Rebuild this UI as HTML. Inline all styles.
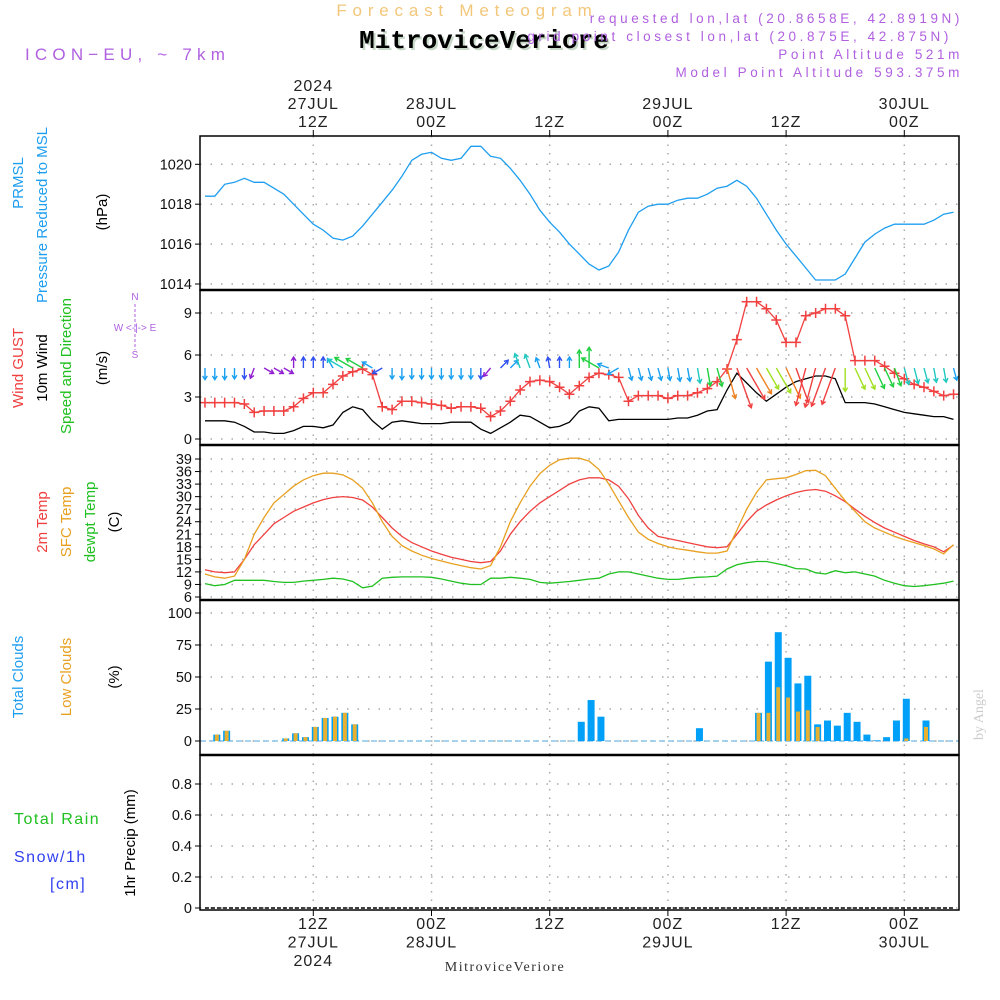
<!DOCTYPE html>
<html><head><meta charset="utf-8">
<style>
html,body{margin:0;padding:0;background:#fff;}
svg{display:block;font-family:"Liberation Sans",sans-serif;}
</style></head>
<body>
<svg id="chart" width="1000" height="1000" viewBox="0 0 1000 1000" xmlns="http://www.w3.org/2000/svg">
<rect width="1000" height="1000" fill="#fff"/>
<text x="467" y="16" font-size="17" fill="#f3c77a" text-anchor="middle" letter-spacing="5.8">Forecast Meteogram</text>
<text x="486" y="50" font-size="26" font-weight="bold" font-family="Liberation Mono,monospace" fill="#c8d8c8" text-anchor="middle">MitroviceVeriore</text>
<text x="484" y="48" font-size="26" font-weight="bold" font-family="Liberation Mono,monospace" fill="#000" text-anchor="middle">MitroviceVeriore</text>
<text x="25" y="60" font-size="17" fill="#b060e0" letter-spacing="5.2">ICON−EU, ~ 7km</text>
<g font-size="13.5" fill="#b060e0" text-anchor="end" letter-spacing="3.6">
<text x="963" y="23">requested lon,lat (20.8658E, 42.8919N)</text>
<text x="952" y="41">grid point closest lon,lat (20.875E, 42.875N)</text>
<text x="963" y="59">Point Altitude 521m</text>
<text x="963" y="77">Model Point Altitude 593.375m</text>
</g>
<g id="grid"></g>
<g id="marks"></g>
<g id="frames"></g>
<g id="labels"></g>
<text x="505" y="971" font-size="14" font-family="Liberation Serif,serif" fill="#333" text-anchor="middle" letter-spacing="1.5">MitroviceVeriore</text>
<text transform="translate(983,740) rotate(-90)" font-size="14" font-family="Liberation Serif,serif" fill="#ccc">by Angel</text>
</svg>
<script>
// ---- data (hourly, h = 1..77 hours after 00Z 27JUL) ----
const hours = [1,2,3,4,5,6,7,8,9,10,11,12,13,14,15,16,17,18,19,20,21,22,23,24,25,26,27,28,29,30,31,32,33,34,35,36,37,38,39,40,41,42,43,44,45,46,47,48,49,50,51,52,53,54,55,56,57,58,59,60,61,62,63,64,65,66,67,68,69,70,71,72,73,74,75,76,77];
const pressure = [1018.4,1018.4,1019.0,1019.1,1019.3,1019.1,1019.1,1018.8,1018.5,1018.0,1017.5,1017.0,1016.7,1016.3,1016.2,1016.4,1016.9,1017.5,1018.1,1018.7,1019.4,1020.2,1020.5,1020.6,1020.3,1020.2,1020.3,1020.9,1020.9,1020.4,1020.3,1019.8,1019.2,1018.5,1017.7,1017.1,1016.6,1016.0,1015.5,1015.0,1014.7,1014.9,1015.6,1016.7,1017.6,1017.9,1018.0,1018.0,1018.2,1018.3,1018.3,1018.5,1018.8,1018.9,1019.2,1018.9,1018.3,1017.5,1016.7,1016.0,1015.4,1014.8,1014.2,1014.2,1014.2,1014.5,1015.3,1016.1,1016.5,1016.8,1017.0,1017.0,1017.0,1017.0,1017.2,1017.5,1017.6];
const gust = [2.6,2.6,2.6,2.6,2.5,1.9,2.0,2.0,2.0,2.3,2.9,3.3,3.3,3.9,4.5,4.8,5.0,4.6,2.3,2.1,2.7,2.7,2.6,2.5,2.4,2.2,2.3,2.3,2.2,1.6,2.0,2.7,3.5,4.1,4.2,4.1,3.7,3.2,3.8,4.4,4.7,4.6,4.4,2.7,3.1,3.1,3.1,2.9,3.1,3.1,3.3,3.6,4.1,5.0,7.1,9.8,9.8,9.3,8.5,6.9,6.9,8.8,9.0,9.3,9.3,8.8,5.6,5.6,5.6,5.2,4.7,4.3,3.9,3.7,3.4,3.1,3.2];
const wind10 = [1.3,1.3,1.3,1.2,0.9,0.5,0.5,0.4,0.4,0.6,0.9,0.9,0.8,1.0,1.9,2.3,2.1,1.3,0.7,1.2,1.3,1.2,1.1,1.1,1.1,1.2,1.2,1.2,0.7,0.4,0.8,1.2,1.7,1.6,1.2,0.8,0.9,1.2,2.0,2.3,2.2,1.3,1.4,1.4,1.4,1.4,1.4,1.4,1.5,1.5,1.7,2.0,2.1,3.5,4.7,4.0,3.3,2.7,3.2,3.7,4.1,4.3,4.5,4.5,4.3,2.6,2.6,2.6,2.5,2.3,2.1,1.9,1.8,1.7,1.6,1.6,1.4];
// arrow heading (degrees, 0 = toward north/up, 90 = east, 180 = south/down)
const windDir = [180,180,180,180,180,200,120,120,120,0,0,0,0,330,300,300,300,300,240,180,180,180,180,180,180,180,180,180,180,220,45,45,340,340,340,350,0,0,0,0,300,290,240,165,165,165,165,170,170,170,170,170,165,165,160,150,150,150,150,155,160,195,195,200,200,180,155,155,155,155,160,165,165,165,170,170,165];
const temp2m = [12.5,12.0,11.8,12.0,15.0,18.5,21.0,23.5,25.0,26.5,27.5,28.5,29.3,29.8,30.0,29.8,29.2,27.5,25.0,22.5,20.5,19.0,18.0,17.0,16.2,15.5,15.0,14.5,14.2,14.5,17.0,21.0,24.0,26.5,28.5,30.0,31.5,33.0,34.0,34.5,34.5,34.0,32.5,29.5,25.5,22.5,20.5,20.0,19.5,19.0,18.5,18.0,17.8,18.0,21.0,24.0,26.5,28.0,29.2,30.2,31.0,31.5,31.7,31.3,30.2,28.8,27.0,25.3,23.8,22.5,21.5,20.5,19.5,18.7,18.0,16.8,18.4];
const tempSfc = [11.5,10.8,10.5,11.0,15.0,21.0,25.0,28.5,30.5,32.5,34.0,35.0,35.6,35.6,35.2,34.0,32.0,28.5,24.0,20.5,18.3,17.0,16.0,15.2,14.6,14.0,13.5,13.0,12.7,13.5,18.0,24.0,28.5,32.5,35.5,37.5,38.8,39.2,39.2,38.5,36.5,33.0,29.0,25.0,21.5,19.8,18.8,18.0,17.5,17.2,16.8,16.5,16.5,17.0,22.0,27.0,31.0,34.0,34.3,34.5,35.3,36.2,36.3,35.0,32.0,29.0,26.5,24.0,22.5,21.5,20.5,19.7,19.0,18.3,17.5,16.3,18.5];
const dewpt = [9.2,8.7,9.0,10.0,10.0,10.0,10.0,9.7,9.5,9.5,9.8,10.0,10.2,10.5,10.3,9.7,8.2,8.6,10.5,10.7,10.8,10.8,10.8,10.7,10.3,9.8,9.3,9.0,9.0,10.5,10.5,10.7,10.5,10.2,9.5,9.3,9.5,9.7,10.0,10.3,10.5,11.5,12.0,12.0,11.5,11.0,10.5,10.2,10.2,10.5,10.7,10.8,11.0,12.7,13.7,14.2,14.5,14.5,14.0,13.5,12.8,12.7,11.8,11.5,12.3,11.8,12.0,11.5,11.0,10.0,9.3,8.7,8.5,8.7,9.0,9.3,9.8];
const totalClouds = [0,5,8,0,0,0,0,0,2,6,3,11,18,19,22,13,0,0,0,0,0,0,0,0,0,0,0,0,0,0,0,0,0,0,0,0,0,0,15,32,19,0,0,0,0,0,0,0,0,0,10,0,0,0,0,0,22,62,85,65,45,51,13,16,12,22,15,5,0.5,3,16,33,0,16,0,0,0];
const lowClouds = [0,5,8,0,0,0,0,0,2,6,3,11,18,19,22,13,0,0,0,0,0,0,0,0,0,0,0,0,0,0,0,0,0,0,0,0,0,0,0,0,0,0,0,0,0,0,0,0,0,0,0,0,0,0,0,0,22,22,42,34,23,24,11,0,0,0,0,0,0,0,0,2,0,11,0,0,0];
const precip = hours.map(()=>0);
const timeTicks = [{h:12,top:["2024","27JUL","12Z"],bot:["12Z","27JUL","2024"]},{h:24,top:["28JUL","00Z"],bot:["00Z","28JUL"]},{h:36,top:["12Z"],bot:["12Z"]},{h:48,top:["29JUL","00Z"],bot:["00Z","29JUL"]},{h:60,top:["12Z"],bot:["12Z"]},{h:72,top:["30JUL","00Z"],bot:["00Z","30JUL"]}];
const pTicks = [1014,1016,1018,1020];
const wTicks = [0,3,6,9];
const tTicks = [6,9,12,15,18,21,24,27,30,33,36,39];
const cTicks = [0,25,50,75,100];
const rTicks = [0,0.2,0.4,0.6,0.8];

// ---- geometry ----
const NS="http://www.w3.org/2000/svg";
const L=200,R=959;
const X = h => 313.3 + (h-12)*9.85;
const lin=(v0,y0,v1,y1)=>v=>y0+(v-v0)*(y1-y0)/(v1-v0);
const yP=lin(1014,284,1020,164.3), yW=lin(0,439,9,313), yT=lin(6,597,39,459), yC=lin(0,741,100,613), yR=lin(0,908,0.8,784);
const panels=[[136,290],[290,445],[445,600],[600,755],[755,910]];
function el(tag,attrs,parent,txt){const e=document.createElementNS(NS,tag);for(const k in attrs)e.setAttribute(k,attrs[k]);if(txt!==undefined)e.textContent=txt;document.getElementById(parent).appendChild(e);return e;}

// grid
timeTicks.forEach(t=>{panels.forEach(p=>{
  const g=el('line',{x1:X(t.h),x2:X(t.h),y1:p[0],y2:p[1],stroke:'#aaa','stroke-width':1.5,'stroke-dasharray':'1.5,7'},'grid');
  
  
});});
function hgrid(ticks,fy,fmt,name){ticks.forEach(v=>{
  const y=fy(v);
  const g=el('line',{x1:L,x2:R,y1:y,y2:y,stroke:'#aaa','stroke-width':1.5,'stroke-dasharray':'1.5,9'},'grid');
  
  
  el('line',{x1:L-5,x2:L,y1:y,y2:y,stroke:'#000'},'frames');
  const t=el('text',{x:L-8,y:y+5,'font-size':14.5,'text-anchor':'end',fill:'#111'},'labels',fmt(v));
  
  
});}
hgrid(pTicks,yP,v=>v,'pressure');
hgrid(wTicks,yW,v=>v,'wind');
hgrid(tTicks,yT,v=>v,'temp');
hgrid(cTicks,yC,v=>v,'cloud');
hgrid(rTicks,yR,v=>v===0?'0':v.toFixed(1),'precip');

// time labels
timeTicks.forEach(t=>{
  const x=X(t.h);
  el('line',{x1:x,x2:x,y1:130,y2:136,stroke:'#000'},'frames');
  el('line',{x1:x,x2:x,y1:910,y2:916,stroke:'#000'},'frames');
  t.top.forEach((s,i)=>{const n=t.top.length;const e=el('text',{x:x,y:127-(n-1-i)*18,'font-size':16,'text-anchor':'middle',fill:'#222','letter-spacing':1},'labels',s);
    
    });
  t.bot.forEach((s,i)=>{const e=el('text',{x:x,y:929+i*18.5,'font-size':16,'text-anchor':'middle',fill:'#222','letter-spacing':1},'labels',s);
    
    });
});

// line helper
function line(vals,fy,color,name,w){
  const d=vals.map((v,i)=>(i?'L':'M')+X(hours[i]).toFixed(1)+','+fy(v).toFixed(1)).join('');
  const p=el('path',{d:d,fill:'none',stroke:color,'stroke-width':w||1.3},'marks');
  
  
}
line(pressure,yP,'#1e9ef0','pressure-line');
line(wind10,yW,'#000','wind10m-line');
line(gust,yW,'#f04040','wind-gust-line');
gust.forEach((v,i)=>{const x=X(hours[i]),y=yW(v);
  const m=el('path',{d:`M${x-5},${y}h10M${x},${y-5}v10`,stroke:'#f04040','stroke-width':1.5},'marks');
  
  });
// wind arrows
function arrowColor(s){ if(s>=4)return '#f04040'; if(s>=3.3)return '#f08020'; if(s>=2.6)return '#a0e020'; if(s>=2.0)return '#20d040'; if(s>=1.6)return '#20c8c0'; if(s>=1.0)return '#1aa0f0'; if(s>=0.7)return '#3050f0'; return '#9020d0';}
windDir.forEach((d,i)=>{
  const s=wind10[i];const len=Math.max(11,s*9);
  const a=d*Math.PI/180;const x0=X(hours[i]),y0=368;
  const x1=x0+Math.sin(a)*len,y1=y0-Math.cos(a)*len;
  const b1=a+Math.PI-0.55,b2=a+Math.PI+0.55;
  const c=arrowColor(s);
  const ar=el('path',{d:`M${x0.toFixed(1)},${y0}L${x1.toFixed(1)},${y1.toFixed(1)}M${(x1+Math.sin(b1)*4.5).toFixed(1)},${(y1-Math.cos(b1)*4.5).toFixed(1)}L${x1.toFixed(1)},${y1.toFixed(1)}L${(x1+Math.sin(b2)*4.5).toFixed(1)},${(y1-Math.cos(b2)*4.5).toFixed(1)}`,fill:'none',stroke:c,'stroke-width':1.4},'marks');
  
  
});
line(temp2m,yT,'#f04040','temp-2m-line');
line(tempSfc,yT,'#e8a020','temp-sfc-line');
line(dewpt,yT,'#20c020','dewpoint-line');
// clouds
const cb=el('line',{x1:L,x2:R,y1:yC(0),y2:yC(0),stroke:'#8cc4e8','stroke-width':1.5,'stroke-dasharray':'6,3'},'marks');


totalClouds.forEach((v,i)=>{if(v<=0)return;const x=X(hours[i])+2;
  const r=el('rect',{x:x-3.5,y:yC(v),width:7,height:yC(0)-yC(v),fill:'#00a0f8'},'marks');
  
  });
lowClouds.forEach((v,i)=>{if(v<=0)return;const x=X(hours[i])+2;
  const r=el('rect',{x:x-2,y:yC(v),width:4,height:yC(0)-yC(v),fill:'#e8b030'},'marks');
  
  });
// precip
const pb=el('path',{d:precip.map((v,i)=>(i?'L':'M')+X(hours[i])+','+yR(v)).join(''),fill:'none',stroke:'#000','stroke-width':1.5,'stroke-dasharray':'4,2'},'marks');



// frames
panels.forEach((p,i)=>{const f=el('rect',{x:L,y:p[0],width:R-L,height:p[1]-p[0],fill:'none',stroke:'#000','stroke-width':1.5},'frames');
  
  });
[290,445,600,755].forEach(y=>el('line',{x1:L,x2:R,y1:y,y2:y,stroke:'#000','stroke-width':2.5},'frames'));

// side labels
function vlab(x,y,s,c,name,fs){const t=el('text',{transform:`translate(${x},${y}) rotate(-90)`,'font-size':fs||15,'text-anchor':'middle',fill:c},'labels',s);
  
  }
vlab(23,183,'PRMSL','#1e9ef0','prmsl-label');
vlab(47,215,'Pressure Reduced to MSL','#1e9ef0','pressure-label');
vlab(107,212,'(hPa)','#000','pressure-unit');
vlab(23,368,'Wind GUST','#f04040','gust-label');
vlab(47,368,'10m Wind','#000','wind10-label');
vlab(71,366,'Speed and Direction','#20c020','wind-direction-label');
vlab(107,368,'(m/s)','#000','wind-unit');
vlab(47,522,'2m Temp','#f04040','temp2m-label');
vlab(71,522,'SFC Temp','#e8a020','tempsfc-label');
vlab(95,522,'dewpt Temp','#20c020','dewpt-label');
vlab(119,522,'(C)','#000','temp-unit');
vlab(23,677,'Total Clouds','#1e9ef0','total-clouds-label');
vlab(71,677,'Low Clouds','#e8a020','low-clouds-label');
vlab(119,677,'(%)','#000','cloud-unit');
vlab(135,843,'1hr Precip (mm)','#000','precip-unit');
el('text',{x:135,y:300,'font-size':10,fill:'#b060e0','text-anchor':'middle'},'labels','N');
el('text',{x:135,y:331,'font-size':10,fill:'#b060e0','text-anchor':'middle'},'labels','W  <-|->  E');
el('text',{x:135,y:358,'font-size':10,fill:'#b060e0','text-anchor':'middle'},'labels','S');
el('line',{x1:135,x2:135,y1:304,y2:350,stroke:'#b060e0','stroke-dasharray':'3,2'},'labels');
[['Total  Rain',14,824,'#20c020','rain-label'],['Snow/1h',14,862,'#3040f0','snow-label'],['[cm]',50,889,'#3040f0','snow-unit']].forEach(a=>{
  const t=el('text',{x:a[1],y:a[2],'font-size':16,fill:a[3],'xml:space':'preserve','letter-spacing':1.5},'labels',a[0]);
  
  });
</script>
</body></html>
